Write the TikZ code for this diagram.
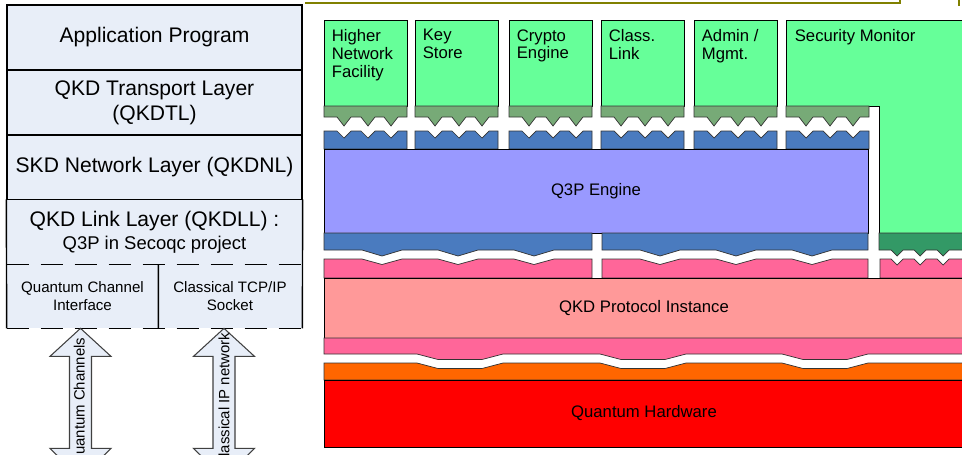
\documentclass[tikz,border=0pt]{standalone}
\usepackage{fontspec}
\setmainfont{Liberation Sans}
\setsansfont{Liberation Sans}
\usetikzlibrary{positioning}
\definecolor{stackfill}{HTML}{E8EEF8}
\definecolor{appgreen}{HTML}{66FF99}
\definecolor{sagegreen}{HTML}{77AA77}
\definecolor{deepgreen}{HTML}{339966}
\definecolor{q3pblue}{HTML}{4A7BBF}
\definecolor{q3plav}{HTML}{9999FF}
\definecolor{qkdpink}{HTML}{FF6699}
\definecolor{qkdsalmon}{HTML}{FF9999}
\definecolor{hworange}{HTML}{FF6600}
\definecolor{hwred}{HTML}{FF0000}
\definecolor{olivebar}{HTML}{808000}

% tab under an application box and the slot it plugs into
\newcommand{\tabpair}[2]{%
  \filldraw[tab] (#1,106) -- (#1,117)
    \foreach \d in {20,44,67}{ -- (#1+\d-7,117) -- (#1+\d,126) -- (#1+\d+7,117)}
    -- (#2,117) -- (#2,106) -- cycle;
  \filldraw[slot] (#1,149) -- (#1,131)
    \foreach \d in {20,44,67}{ -- (#1+\d-7,131) -- (#1+\d,138) -- (#1+\d+7,131)}
    -- (#2,131) -- (#2,149) -- cycle;
}
% tab under the Q3P engine and the slot of the protocol instance
\newcommand{\enginepair}[2]{%
  \filldraw[slot] (#1,233) -- (#1,250)
    \foreach \d in {58,134,210}{ -- (#1+\d-20,250) -- (#1+\d,256) -- (#1+\d+20,250)}
    -- (#2,250) -- (#2,233) -- cycle;
  \filldraw[band,fill=qkdpink] (#1,278) -- (#1,259)
    \foreach \d in {58,134,210}{ -- (#1+\d-20,259) -- (#1+\d,264.5) -- (#1+\d+20,259)}
    -- (#2,259) -- (#2,278) -- cycle;
}

\begin{document}
\begin{tikzpicture}[x=0.02cm,y=-0.02cm,font=\sffamily]
    \tikzstyle{stack}=[draw, line width=0.8pt, fill=stackfill, minimum width=59mm, minimum height=13mm, inner sep=0, align=center, font=\sffamily\fontsize{12}{14.2}\selectfont]
    \tikzstyle{iface}=[fill=stackfill, minimum height=12.6mm, inner sep=0, align=center, font=\sffamily\fontsize{8.6}{10.2}\selectfont]
    \tikzstyle{bigarrow}=[draw=black!75, fill=stackfill, line width=0.6pt]
    \tikzstyle{chan}=[inner sep=0, rotate=90, font=\sffamily\fontsize{8.5}{10}\selectfont]
    \tikzstyle{app}=[draw, line width=0.4pt, fill=appgreen, minimum width=16.6mm, minimum height=17.2mm, anchor=north west, inner sep=0]
    \tikzstyle{applabel}=[inner sep=0, align=left, font=\sffamily\fontsize{9.5}{10.2}\selectfont]
    \tikzstyle{band}=[draw=black!80, line width=0.4pt]
    \tikzstyle{tab}=[band, fill=sagegreen]
    \tikzstyle{slot}=[band, fill=q3pblue]
    \tikzstyle{layer}=[draw, line width=0.4pt, inner sep=0, font=\sffamily\fontsize{9.5}{10.2}\selectfont]
    \useasboundingbox (0,0) rectangle (962,454);
    \clip (0,0) rectangle (962,454);

    % protocol stack
    \node[stack] (app) at (154.5,37.5) {Application Program};
    \node[stack] (qkdtl) at (154.5,102.5) {QKD Transport Layer\\(QKDTL)};
    \node[stack] (qkdnl) at (154.5,167.5) {SKD Network Layer (QKDNL)};
    \node[stack, draw=none] (qkdll) at (154.5,232.5) {QKD Link Layer (QKDLL) :\\[-1pt]{\fontsize{10.5}{12}\selectfont Q3P in Secoqc project}};
    \node[iface, minimum width=30.2mm] (qci) at (82.5,296.5) {Quantum Channel\\Interface};
    \node[iface, minimum width=28.8mm] (tcp) at (230,296.5) {Classical TCP/IP\\Socket};
    \draw[line width=0.8pt] (qkdll.north west) -- (qci.south west) (qkdll.north east) -- (tcp.south east) (qci.north east) -- (qci.south east);
    \draw[line width=0.8pt, dash pattern=on 4.4mm off 2.4mm] (qci.north west) -- (tcp.north east) (qci.south west) -- (tcp.south east);

    \draw[bigarrow] ([xshift=-0.4mm]qci.south) -- ++(30.5,28) -- ++(-19.5,0) -- ++(0,92) -- ++(19.5,0) -- ++(-30.5,30) -- ++(-30.5,-30) -- ++(19.5,0) -- ++(0,-92) -- ++(-19.5,0) -- cycle;
    \draw[bigarrow] ([xshift=-1.2mm]tcp.south) -- ++(30.5,28) -- ++(-19.5,0) -- ++(0,92) -- ++(19.5,0) -- ++(-30.5,30) -- ++(-30.5,-30) -- ++(19.5,0) -- ++(0,-92) -- ++(-19.5,0) -- cycle;
    \node[chan] (qchan) at (80.5,402) {Quantum Channels};
    \node[chan] (ipnet) at (224,400) {Classical IP network};

    % Q3P node architecture
    \draw[olivebar, line width=1.3pt] (305,3) -- (900,3) -- (900,-2);
    \draw[olivebar, line width=1.5pt] (959,-1) -- (959,6);

    \foreach \x/\nm/\txt in {324/hnf/{Higher\\Network\\Facility}, 415/keystore/{Key\\Store}, 509/crypto/{Crypto\\Engine}, 601/clink/{Class.\\Link}, 694/admin/{Admin /\\Mgmt.}}{
        \node[app] (\nm) at (\x,20) {};
        \node[applabel, below right=1.8mm and 1.5mm of \nm.north west] (\nm-txt) {\txt};
        \tabpair{\x}{\x+83}
    }
    \filldraw[fill=appgreen, draw=black, line width=0.4pt] (786,106) -- (786,20) -- (964,20) -- (964,233) -- (879,233) -- (879,106) -- cycle;
    \coordinate (monitor) at (786,20);
    \node[applabel, below right=1.8mm and 1.7mm of monitor] (monitor-txt) {Security Monitor};
    \tabpair{786}{869}

    \node[layer, fill=q3plav, minimum width=108.8mm, minimum height=16.8mm] (q3p) at (596,191) {Q3P Engine};
    \enginepair{324}{592}
    \enginepair{602}{868}
    \filldraw[band, fill=deepgreen] (879,233) -- (879,250) \foreach \n in {897,920,943}{ -- (\n-6,250) -- (\n,256) -- (\n+6,250)} -- (964,250) -- (964,233) -- cycle;
    \filldraw[band, fill=qkdpink] (880,278) -- (880,259) \foreach \n in {897,920,943}{ -- (\n-6,259) -- (\n,265) -- (\n+6,259)} -- (964,259) -- (964,278) -- cycle;

    \node[layer, fill=qkdsalmon, minimum width=128mm, minimum height=12mm] (qkdpi) at (644,308) {QKD Protocol Instance};
    \filldraw[band, fill=qkdpink] (324,338) -- (324,354) \foreach \n in {460,643,825}{ -- (\n-43,354) -- (\n-22,359.5) -- (\n+22,359.5) -- (\n+43,354)} -- (964,354) -- (964,338) -- cycle;
    \filldraw[band, fill=hworange] (324,380) -- (324,363) \foreach \n in {460,643,825}{ -- (\n-43,363) -- (\n-22,368.5) -- (\n+22,368.5) -- (\n+43,363)} -- (964,363) -- (964,380) -- cycle;
    \node[layer, fill=hwred, minimum width=128mm, minimum height=13.4mm] (qhw) at (644,413.5) {Quantum Hardware};
\end{tikzpicture}
\end{document}
